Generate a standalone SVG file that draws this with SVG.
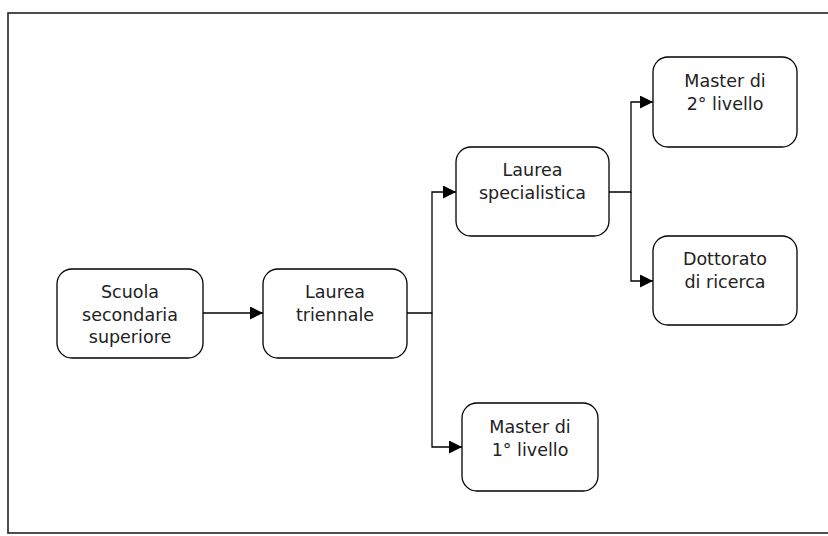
<svg xmlns="http://www.w3.org/2000/svg" width="828" height="536" viewBox="0 0 828 536">
<style>
.box{fill:#fff;stroke:#000;stroke-width:1.3}
.t{font-family:"DejaVu Sans",sans-serif;font-size:17.5px;fill:#222;text-anchor:middle}
.c{fill:none;stroke:#000;stroke-width:1.3}
</style>
<defs>
<marker id="ah" viewBox="0 0 10 10" refX="10" refY="5" markerWidth="13" markerHeight="13" markerUnits="userSpaceOnUse" orient="auto">
<path d="M0,0 L10,5 L0,10 Z" fill="#000"/>
</marker>
</defs>
<rect x="8" y="13" width="830" height="520" fill="#fff" stroke="#222" stroke-width="1.6"/>
<g id="connectors">
<path class="c" d="M203,313 H263" marker-end="url(#ah)"/>
<path class="c" d="M407,313 H432 V192 H456" marker-end="url(#ah)"/>
<path class="c" d="M432,313 V447 H462" marker-end="url(#ah)"/>
<path class="c" d="M609,192 H631 V102 H653" marker-end="url(#ah)"/>
<path class="c" d="M631,192 V281 H653" marker-end="url(#ah)"/>
</g>
<g id="scuola">
<rect class="box" x="57" y="269" width="146" height="89" rx="15"/>
<text class="t" x="130" y="298">Scuola</text>
<text class="t" x="130" y="320.5">secondaria</text>
<text class="t" x="130" y="343">superiore</text>
</g>
<g id="triennale">
<rect class="box" x="263" y="269" width="144" height="89" rx="15"/>
<text class="t" x="335" y="298">Laurea</text>
<text class="t" x="335" y="320.5">triennale</text>
</g>
<g id="specialistica">
<rect class="box" x="456" y="147" width="153" height="89" rx="15"/>
<text class="t" x="532.5" y="176">Laurea</text>
<text class="t" x="532.5" y="198.5">specialistica</text>
</g>
<g id="master2">
<rect class="box" x="653" y="57" width="144" height="90" rx="15"/>
<text class="t" x="725" y="87">Master di</text>
<text class="t" x="725" y="109.5">2° livello</text>
</g>
<g id="dottorato">
<rect class="box" x="653" y="236" width="144" height="89" rx="15"/>
<text class="t" x="725" y="265">Dottorato</text>
<text class="t" x="725" y="287.5">di ricerca</text>
</g>
<g id="master1">
<rect class="box" x="462" y="403" width="136" height="88" rx="15"/>
<text class="t" x="530" y="433">Master di</text>
<text class="t" x="530" y="455.5">1° livello</text>
</g>
</svg>
